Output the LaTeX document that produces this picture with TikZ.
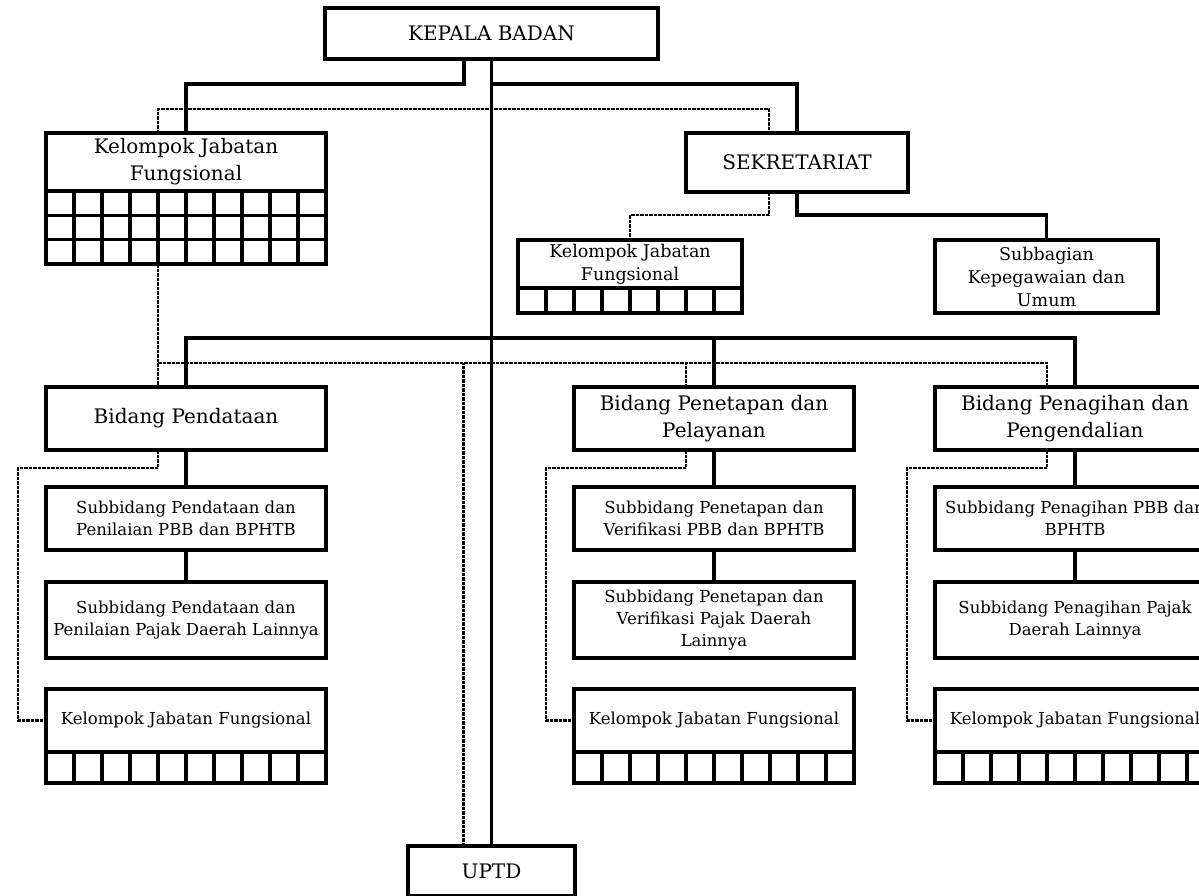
\documentclass[tikz,border=0pt]{standalone}
\usepackage{fontspec}
\setmainfont{DejaVu Serif}
\usetikzlibrary{calc}
\newcommand\fbig{\fontsize{20}{27}\selectfont}
\newcommand\fmid{\fontsize{17.5}{23}\selectfont}
\newcommand\fsml{\fontsize{16.5}{22}\selectfont}
\begin{document}
\begin{tikzpicture}[x=1pt,y=-1pt,
  box/.style={draw, line width=3.2pt, inner sep=0pt, outer sep=0pt, align=center, anchor=north west},
  solidc/.style={line width=3.2pt},
  dotc/.style={line width=2.2pt, dash pattern=on 3.5pt off 1pt},
  gridl/.style={line width=3.2pt}]
\useasboundingbox (0,0) rectangle (1199,895);
\clip (0,0) rectangle (1199,895);

% top level
\node[box, minimum width=333pt, minimum height=51pt, font=\fbig] (kb) at (325,8) {KEPALA BADAN};
\node[box, minimum width=280pt, minimum height=58pt, font=\fbig] (kjf1) at (46,133) {Kelompok Jabatan\\Fungsional};
\node[box, minimum width=280pt, minimum height=73pt] (kjf1g) at (46,191) {};
\node[box, minimum width=222pt, minimum height=59pt, font=\fbig] (sek) at (686,133) {SEKRETARIAT};
\node[box, minimum width=224pt, minimum height=48pt, font=\fmid] (kjf2) at (518,240) {Kelompok Jabatan\\Fungsional};
\node[box, minimum width=224pt, minimum height=25pt] (kjf2g) at (518,288) {};
\node[box, minimum width=223pt, minimum height=73pt, font=\fmid] (sub) at (935,240) {Subbagian\\Kepegawaian dan\\Umum};

% bidang
\node[box, minimum width=280pt, minimum height=63pt, font=\fbig] (bp) at (46,387) {Bidang Pendataan};
\node[box, minimum width=280pt, minimum height=63pt, font=\fbig] (bpp) at (574,387) {Bidang Penetapan dan\\Pelayanan};
\node[box, minimum width=280pt, minimum height=63pt, font=\fbig] (bpg) at (935,387) {Bidang Penagihan dan\\Pengendalian};

% subbidang
\node[box, minimum width=280pt, minimum height=63pt, font=\fsml] (s11) at (46,487) {Subbidang Pendataan dan\\Penilaian PBB dan BPHTB};
\node[box, minimum width=280pt, minimum height=76pt, font=\fsml] (s12) at (46,582) {Subbidang Pendataan dan\\Penilaian Pajak Daerah Lainnya};
\node[box, minimum width=280pt, minimum height=63pt, font=\fsml] (s21) at (574,487) {Subbidang Penetapan dan\\Verifikasi PBB dan BPHTB};
\node[box, minimum width=280pt, minimum height=76pt, font=\fsml] (s22) at (574,582) {Subbidang Penetapan dan\\Verifikasi Pajak Daerah\\Lainnya};
\node[box, minimum width=280pt, minimum height=63pt, font=\fsml] (s31) at (935,487) {Subbidang Penagihan PBB dan\\BPHTB};
\node[box, minimum width=280pt, minimum height=76pt, font=\fsml] (s32) at (935,582) {Subbidang Penagihan Pajak\\Daerah Lainnya};

% kelompok jabatan fungsional (bottom)
\node[box, minimum width=280pt, minimum height=63pt, font=\fsml] (kA) at (46,689) {Kelompok Jabatan Fungsional};
\node[box, minimum width=280pt, minimum height=31pt] (kAg) at (46,752) {};
\node[box, minimum width=280pt, minimum height=63pt, font=\fsml] (kB) at (574,689) {Kelompok Jabatan Fungsional};
\node[box, minimum width=280pt, minimum height=31pt] (kBg) at (574,752) {};
\node[box, minimum width=280pt, minimum height=63pt, font=\fsml] (kC) at (935,689) {Kelompok Jabatan Fungsional};
\node[box, minimum width=280pt, minimum height=31pt] (kCg) at (935,752) {};

\node[box, minimum width=167pt, minimum height=50pt, font=\fbig] (uptd) at (408,846) {UPTD};

% grids
\foreach \i in {1,...,9} {
  \draw[gridl] ($(kjf1g.north west)+(28*\i,0)$) -- ($(kjf1g.south west)+(28*\i,0)$);
  \draw[gridl] ($(kAg.north west)+(28*\i,0)$) -- ($(kAg.south west)+(28*\i,0)$);
  \draw[gridl] ($(kBg.north west)+(28*\i,0)$) -- ($(kBg.south west)+(28*\i,0)$);
  \draw[gridl] ($(kCg.north west)+(28*\i,0)$) -- ($(kCg.south west)+(28*\i,0)$);
}
\foreach \i in {1,...,7} {
  \draw[gridl] ($(kjf2g.north west)+(28*\i,0)$) -- ($(kjf2g.south west)+(28*\i,0)$);
}
\foreach \j in {1,2} {
  \draw[gridl] ($(kjf1g.north west)+(0,24.3*\j)$) -- ($(kjf1g.north east)+(0,24.3*\j)$);
}

% solid connectors
\draw[solidc] (kb.south) ++(-27.5,0) -- ++(0,25) -| (kjf1.north);
\draw[solidc] (kb.south) -- (uptd.north);
\draw[solidc] (kb.south) ++(0,25) -| (sek.north);
\draw[solidc] (sek.south) -- ++(0,23) -| (sub.north);
\draw[solidc] (bp.north) -- ++(0,-49) -| (bpg.north);
\draw[solidc] (bpp.north) -- ++(0,-49);
\draw[solidc] (bp.south) -- (s11.north);
\draw[solidc] (s11.south) -- (s12.north);
\draw[solidc] (bpp.south) -- (s21.north);
\draw[solidc] (s21.south) -- (s22.north);
\draw[solidc] (bpg.south) -- (s31.north);
\draw[solidc] (s31.south) -- (s32.north);

% dotted connectors
\coordinate (dbus) at ($(bp.north)+(-28,-24)$);
\coordinate (uptdL) at ($(uptd.north)+(-28,0)$);
\coordinate (bppL) at ($(bpp.north)+(-28,0)$);
\draw[dotc] ($(kjf1.north)+(-28,0)$) -- ++(0,-24) -| ($(sek.north)+(-28,0)$);
\draw[dotc] ($(sek.south)+(-28,0)$) -- ++(0,23) -| (kjf2.north);
\draw[dotc] ($(kjf1g.south)+(-28,0)$) -- ($(bp.north)+(-28,0)$);
\draw[dotc] (dbus) -| ($(bpg.north)+(-28,0)$);
\draw[dotc] (uptdL) -- (uptdL |- dbus);
\draw[dotc] (bppL) -- (bppL |- dbus);
\draw[dotc] ($(bp.south)+(-28,0)$) -- ++(0,18) -| ($(kA.west)+(-28,0)$) -- (kA.west);
\draw[dotc] ($(bpp.south)+(-28,0)$) -- ++(0,18) -| ($(kB.west)+(-28,0)$) -- (kB.west);
\draw[dotc] ($(bpg.south)+(-28,0)$) -- ++(0,18) -| ($(kC.west)+(-28,0)$) -- (kC.west);
\end{tikzpicture}
\end{document}
